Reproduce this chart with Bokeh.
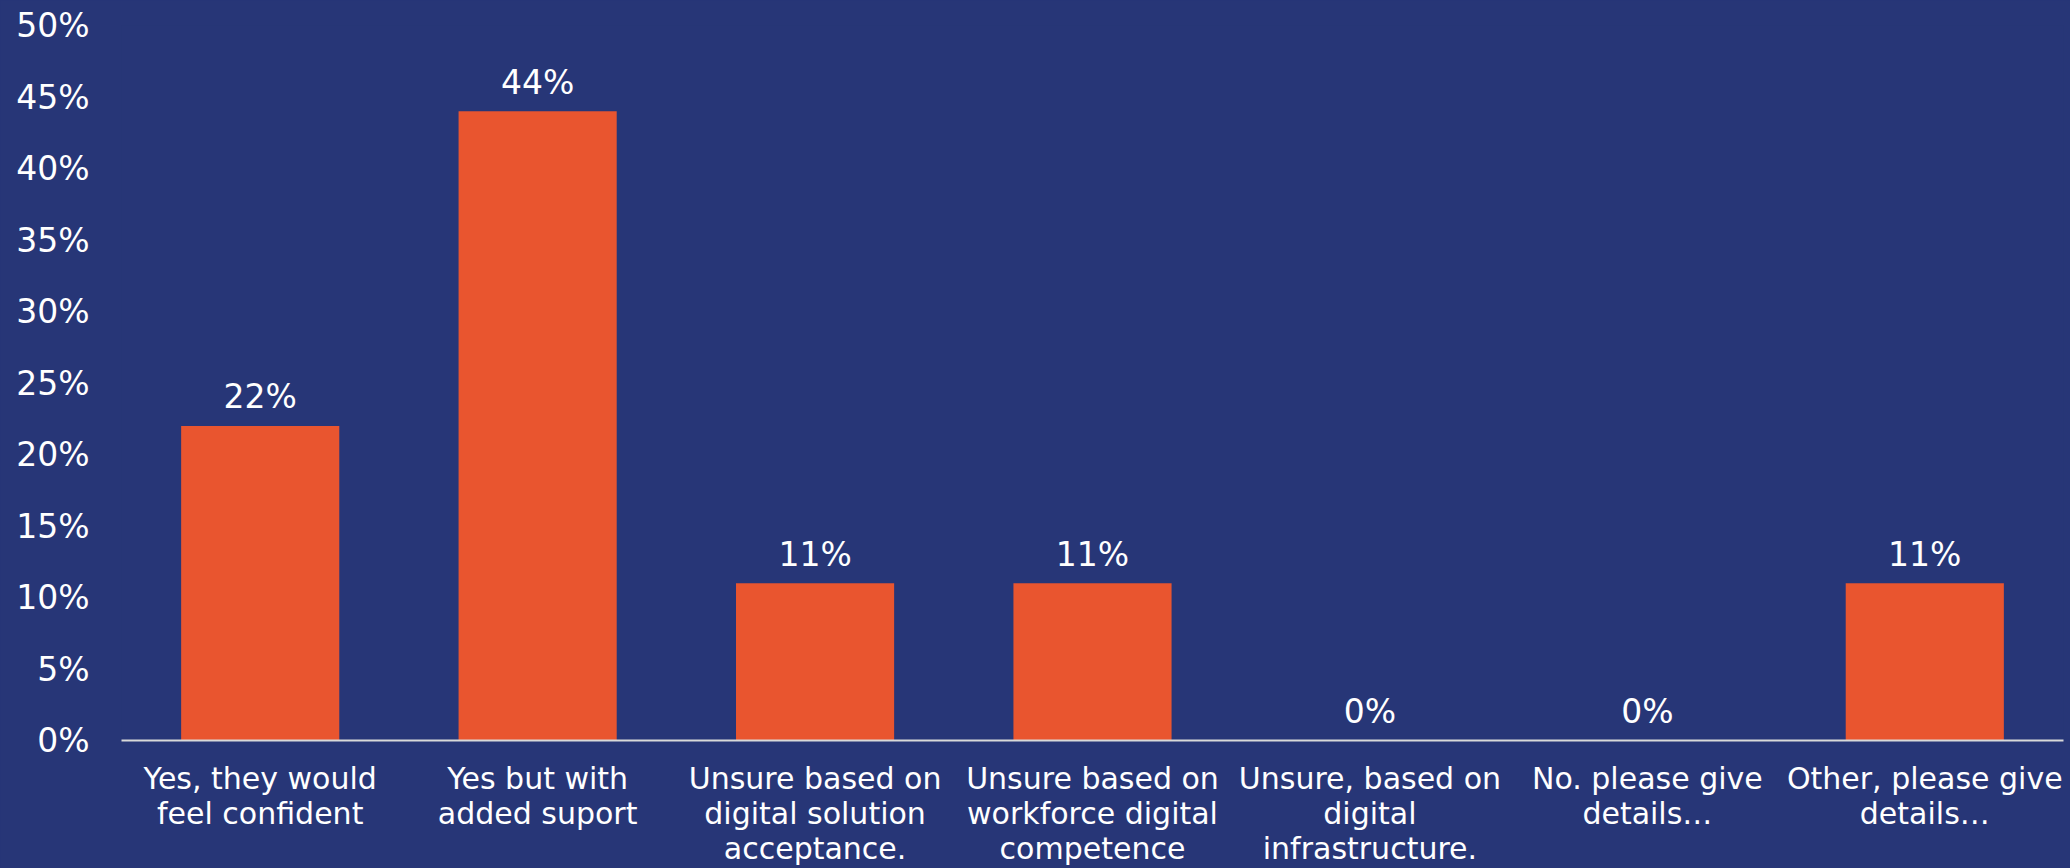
from bokeh.plotting import figure
from bokeh.models import ColumnDataSource, Range1d, FixedTicker, CustomJSTickFormatter
from bokeh.core.properties import value
from bokeh.embed import file_html
from bokeh.resources import INLINE

categories = [
    "Yes, they would\nfeel confident",
    "Yes but with\nadded suport",
    "Unsure based on\ndigital solution\nacceptance.",
    "Unsure based on\nworkforce digital\ncompetence",
    "Unsure, based on\ndigital\ninfrastructure.",
    "No. please give\ndetails\u2026",
    "Other, please give\ndetails\u2026",
]
values = [22, 44, 11, 11, 0, 0, 11]
labels = [f"{v}%" for v in values]
y_ticks = [0, 5, 10, 15, 20, 25, 30, 35, 40, 45, 50]

BG = "#273677"
BAR = "#E9552F"
FONT = "DejaVu Sans"

src = ColumnDataSource(dict(cat=categories, val=values, lab=labels))

p = figure(
    x_range=categories,
    y_range=Range1d(0, 50),
    width=2070, height=868,
    output_backend="svg", toolbar_location=None,
    min_border_left=121, min_border_right=7,
    min_border_top=25, min_border_bottom=126,
    background_fill_color=None, border_fill_color=BG,
    outline_line_color=None,
)
p.styles = {"background-color": BG}

p.vbar(x="cat", top="val", width=0.57, source=src, fill_color=BAR, line_color=None)
p.text(x="cat", y="val", text="lab", source=src, text_align="center",
       text_baseline="alphabetic", y_offset=-29, text_color="white",
       text_font=value(FONT), text_font_size="33px")

p.xgrid.grid_line_color = None
p.ygrid.grid_line_color = None

ya = p.yaxis[0]
ya.ticker = FixedTicker(ticks=y_ticks)
ya.formatter = CustomJSTickFormatter(code="return tick + '%';")
ya.axis_line_color = None
ya.major_tick_line_color = None
ya.minor_tick_line_color = None
ya.major_label_text_color = "white"
ya.major_label_text_font = FONT
ya.major_label_text_font_size = "33px"
ya.major_label_standoff = 26

xa = p.xaxis[0]
xa.axis_line_color = "#D9D9D9"
xa.axis_line_width = 2
xa.major_tick_line_color = None
xa.minor_tick_line_color = None
xa.major_label_text_color = "white"
xa.major_label_text_font = FONT
xa.major_label_text_font_size = "30px"
xa.major_label_text_line_height = 1.0
xa.major_label_standoff = 14

open("out.html", "w").write(file_html(p, INLINE))
